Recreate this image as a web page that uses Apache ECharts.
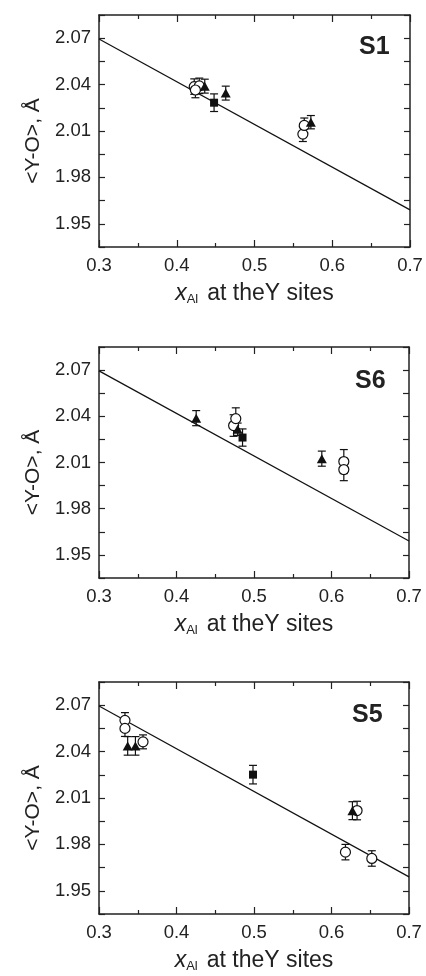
<!DOCTYPE html>
<html><head><meta charset="utf-8">
<script src="https://cdn.jsdelivr.net/npm/echarts@6/dist/echarts.min.js"></script>
<style>html,body{margin:0;padding:0;background:#fff}#c{width:426px;height:976px}</style>
</head><body><div id="c"></div>
<script>
// ---------------- data ----------------
const panelNames = ['S1', 'S6', 'S5'];
const xTickLabels = [0.3, 0.4, 0.5, 0.6, 0.7];
const yTickLabels = [1.95, 1.98, 2.01, 2.04, 2.07];
const fitLine = [[0.3, 2.0695], [0.7, 1.959]];

// each point: [x, y, error]
const s1Circles   = [[0.4225, 2.0387, 0.005], [0.4290, 2.0392, 0.005], [0.4240, 2.0365, 0.005]];
const s1Triangles = [[0.4360, 2.0390, 0.0045], [0.4630, 2.0345, 0.0045], [0.5725, 2.0157, 0.0043]];
const s1Squares   = [[0.4480, 2.0283, 0.0057]];
const s1Circles2  = [[0.5622, 2.0080, 0.0048], [0.5640, 2.0136, 0.0048]];

const s6Circles   = [[0.4737, 2.0340, 0.0070], [0.4765, 2.0385, 0.0070], [0.6159, 2.0106, 0.0078], [0.6159, 2.0054, 0.0072]];
const s6Triangles = [[0.4254, 2.0388, 0.0049], [0.4789, 2.0316, 0.0040], [0.5875, 2.0125, 0.0049]];
const s6Squares   = [[0.4852, 2.0262, 0.0056]];

const s5Circles   = [[0.3335, 2.0602, 0.0050], [0.3335, 2.0550, 0.0052], [0.3568, 2.0463, 0.0045], [0.6330, 2.0019, 0.0060], [0.6180, 1.9750, 0.0050], [0.6520, 1.9709, 0.0050]];
const s5Triangles = [[0.3370, 2.0437, 0.0060], [0.3470, 2.0437, 0.0060], [0.6270, 2.0018, 0.0058]];
const s5Squares   = [[0.4987, 2.0251, 0.0060]];

const panelCircles   = [s1Circles.concat(s1Circles2), s6Circles, s5Circles];
const panelTriangles = [s1Triangles, s6Triangles, s5Triangles];
const panelSquares   = [s1Squares, s6Squares, s5Squares];

// ---------------- layout ----------------
const grids = [
  {left: 99, top: 15,  width: 311, height: 232},
  {left: 99, top: 347, width: 310, height: 231},
  {left: 99, top: 682, width: 310, height: 232}
];
const titlePos = [{left: 359, top: 35}, {left: 355, top: 369}, {left: 352, top: 703}];

const AX = '#222';
const FONT = 'Liberation Sans, Arial, Helvetica, sans-serif';

function xLabel(v) {
  const r = Math.round(v * 100);
  return xTickLabels.some(t => Math.round(t * 100) === r) ? (r / 100).toFixed(1) : '';
}
function yLabel(v) {
  const r = Math.round(v * 1000);
  return yTickLabels.some(t => Math.round(t * 1000) === r) ? (r / 1000).toFixed(2) : '';
}

function renderErr(params, api) {
  const x = api.value(0), lo = api.value(1), hi = api.value(2);
  const top = api.coord([x, hi]), bot = api.coord([x, lo]);
  const w = 4;
  const style = {stroke: '#111', lineWidth: 1.2};
  return {type: 'group', children: [
    {type: 'line', shape: {x1: top[0], y1: top[1], x2: bot[0], y2: bot[1]}, style},
    {type: 'line', shape: {x1: top[0] - w, y1: top[1], x2: top[0] + w, y2: top[1]}, style},
    {type: 'line', shape: {x1: bot[0] - w, y1: bot[1], x2: bot[0] + w, y2: bot[1]}, style}
  ]};
}

const xAxes = [], yAxes = [], series = [], titles = [];
grids.forEach((g, i) => {
  const common = {
    gridIndex: i, type: 'value', min: 0.3, max: 0.7, interval: 0.1,
    axisLine: {show: true, onZero: false, lineStyle: {color: AX, width: 1.5}},
    axisTick: {show: true, inside: true, length: 7, lineStyle: {color: AX, width: 1.2}},
    minorTick: {show: true, splitNumber: 2, length: 4, lineStyle: {color: AX, width: 1.2}},
    splitLine: {show: false}, minorSplitLine: {show: false}
  };
  xAxes.push(Object.assign({}, common, {
    position: 'bottom',
    axisLabel: {show: true, margin: 9, color: '#222', fontSize: 18.5, fontFamily: FONT, formatter: xLabel},
    name: '{i|x}{s|Al}{n|at theY sites}',
    nameLocation: 'middle', nameGap: 35,
    nameTextStyle: {
      color: '#222', fontFamily: FONT,
      rich: {
        i: {fontSize: 23, fontStyle: 'italic', fontFamily: FONT, color: '#222'},
        s: {fontSize: 13, fontFamily: FONT, color: '#222', padding: [11, 0, 0, 0]},
        n: {fontSize: 23, fontFamily: FONT, color: '#222', padding: [0, 0, 0, 9]}
      }
    }
  }));
  xAxes.push(Object.assign({}, common, {position: 'top', axisLabel: {show: false}}));
  const ycommon = {
    gridIndex: i, type: 'value', min: 1.935, max: 2.085, interval: 0.015,
    axisLine: {show: true, onZero: false, lineStyle: {color: AX, width: 1.5}},
    axisTick: {show: true, inside: true, length: 6, lineStyle: {color: AX, width: 1.2}},
    splitLine: {show: false}
  };
  yAxes.push(Object.assign({}, ycommon, {
    position: 'left',
    axisLabel: {show: true, margin: 8, color: '#222', fontSize: 18.5, fontFamily: FONT, formatter: yLabel},
    name: '<Y-O>, Å', nameLocation: 'middle', nameGap: 54, nameRotate: 90,
    nameTextStyle: {color: '#222', fontSize: 21, fontFamily: FONT, padding: [0, 20, 0, 0]}
  }));
  yAxes.push(Object.assign({}, ycommon, {position: 'right', axisLabel: {show: false}}));

  titles.push({
    text: panelNames[i], left: titlePos[i].left, top: titlePos[i].top, padding: 0,
    textStyle: {fontSize: 25, fontWeight: 'bold', fontFamily: FONT, color: '#222'}
  });

  const xi = i * 2, yi = i * 2;
  series.push({
    type: 'line', xAxisIndex: xi, yAxisIndex: yi, data: fitLine, symbol: 'none',
    lineStyle: {color: '#111', width: 1.2}, z: 2, silent: true
  });
  const all = panelCircles[i].concat(panelTriangles[i], panelSquares[i]);
  series.push({
    type: 'custom', xAxisIndex: xi, yAxisIndex: yi, renderItem: renderErr,
    data: all.map(p => [p[0], p[1] - p[2], p[1] + p[2]]),
    encode: {x: 0, y: [1, 2]}, z: 3, silent: true
  });
  series.push({
    type: 'scatter', xAxisIndex: xi, yAxisIndex: yi, symbol: 'circle', symbolSize: 10,
    data: panelCircles[i].map(p => [p[0], p[1]]),
    itemStyle: {color: '#fff', borderColor: '#111', borderWidth: 1.2, opacity: 1}, z: 4, silent: true
  });
  series.push({
    type: 'scatter', xAxisIndex: xi, yAxisIndex: yi, symbol: 'triangle', symbolSize: [10, 9],
    data: panelTriangles[i].map(p => [p[0], p[1]]),
    itemStyle: {color: '#111', opacity: 1}, z: 5, silent: true
  });
  series.push({
    type: 'scatter', xAxisIndex: xi, yAxisIndex: yi, symbol: 'rect', symbolSize: 8,
    data: panelSquares[i].map(p => [p[0], p[1]]),
    itemStyle: {color: '#111', opacity: 1}, z: 5, silent: true
  });
});

const chart = echarts.init(document.getElementById('c'), null, {renderer: 'canvas'});
chart.setOption({
  animation: false,
  backgroundColor: '#fff',
  title: titles,
  grid: grids,
  xAxis: xAxes,
  yAxis: yAxes,
  series: series
});
</script>
</body></html>
